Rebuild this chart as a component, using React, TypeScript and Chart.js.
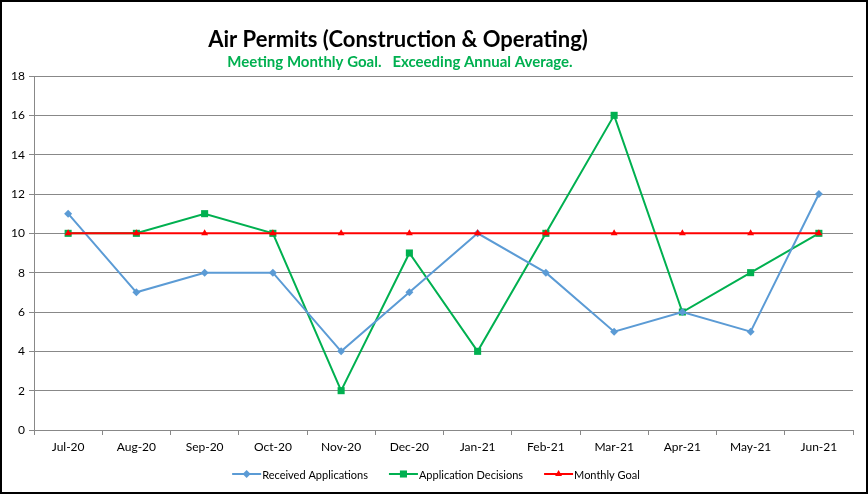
import React, { useEffect, useRef } from 'react';
import { Chart, registerables } from 'chart.js';
import { drawPoint } from 'chart.js/helpers';

Chart.register(...registerables);

const months = ['Jul-20', 'Aug-20', 'Sep-20', 'Oct-20', 'Nov-20', 'Dec-20', 'Jan-21', 'Feb-21', 'Mar-21', 'Apr-21', 'May-21', 'Jun-21'];
const received = [11, 7, 8, 8, 4, 7, 10, 8, 5, 6, 5, 12];
const decisions = [10, 10, 11, 10, 2, 9, 4, 10, 16, 6, 8, 10];
const goal = [10, 10, 10, 10, 10, 10, 10, 10, 10, 10, 10, 10];
const yMin = 0;
const yMax = 18;
const yStep = 2;
const titleText = 'Air Permits (Construction & Operating)';
const subtitleText = 'Meeting Monthly Goal.   Exceeding Annual Average.';
const seriesLabels = ['Received Applications', 'Application Decisions', 'Monthly Goal'];

const FONT = 'Lato, "Open Sans", sans-serif';
const BLUE = '#5B9BD5';
const GREEN = '#00B050';
const RED = '#FF0000';

const decorPlugin = {
  id: 'decor',
  afterDraw(chart: any) {
    const ctx: CanvasRenderingContext2D = chart.ctx;
    ctx.save();
    ctx.textAlign = 'center';
    ctx.textBaseline = 'middle';
    ctx.fillStyle = '#000';
    ctx.font = `bold 22px ${FONT}`;
    ctx.fillText(titleText, 396, 38);
    ctx.fillStyle = GREEN;
    ctx.font = `bold 15px ${FONT}`;
    ctx.fillText(subtitleText, 398, 60);

    // legend
    ctx.font = `11px ${FONT}`;
    const lineW = 29;
    const gap = 1;
    const itemGap = 21;
    const ds = chart.data.datasets;
    const widths = ds.map((d: any) => lineW + gap + ctx.measureText(d.label).width);
    const total = widths.reduce((a: number, b: number) => a + b, 0) + itemGap * (ds.length - 1);
    let x = 434 - total / 2;
    const y = 472;
    ds.forEach((d: any, i: number) => {
      ctx.strokeStyle = d.borderColor;
      ctx.lineWidth = 2;
      ctx.beginPath();
      ctx.moveTo(x, y);
      ctx.lineTo(x + lineW, y);
      ctx.stroke();
      ctx.fillStyle = d.borderColor;
      ctx.lineWidth = 0;
      drawPoint(ctx, { pointStyle: d.pointStyle, radius: d.pointRadius, rotation: 0, borderWidth: 0 }, x + lineW / 2, y);
      ctx.fillStyle = '#000';
      ctx.textAlign = 'left';
      ctx.fillText(d.label, x + lineW + gap, y + 1);
      x += widths[i] + itemGap;
    });
    ctx.restore();
  },
};

export default function App() {
  const ref = useRef<HTMLCanvasElement>(null);
  useEffect(() => {
    if (!ref.current) return;
    const chart = new Chart(ref.current, {
      type: 'line',
      data: {
        labels: months,
        datasets: [
          {
            label: seriesLabels[0],
            data: received,
            borderColor: BLUE,
            backgroundColor: BLUE,
            borderWidth: 2,
            pointStyle: 'rectRot',
            pointRadius: 4,
            pointHoverRadius: 4,
            pointBorderWidth: 0,
            tension: 0,
            order: 1,
          },
          {
            label: seriesLabels[1],
            data: decisions,
            borderColor: GREEN,
            backgroundColor: GREEN,
            borderWidth: 2,
            pointStyle: 'rect',
            pointRadius: 5,
            pointHoverRadius: 5,
            pointBorderWidth: 0,
            tension: 0,
            order: 2,
          },
          {
            label: seriesLabels[2],
            data: goal,
            borderColor: RED,
            backgroundColor: RED,
            borderWidth: 2,
            pointStyle: 'triangle',
            pointRadius: 4,
            pointHoverRadius: 4,
            pointBorderWidth: 0,
            tension: 0,
            order: 0,
          },
        ],
      },
      options: {
        animation: false,
        responsive: false,
        layout: { padding: { top: 74, bottom: 32, right: 13, left: 0 } },
        plugins: {
          legend: { display: false },
          title: { display: false },
          tooltip: { enabled: false },
        },
        scales: {
          x: {
            offset: true,
            grid: {
              offset: true,
              drawOnChartArea: false,
              drawTicks: true,
              tickLength: 5,
              color: '#888',
            },
            border: { display: true, color: '#888', width: 1 },
            ticks: {
              color: '#000',
              font: { family: FONT, size: 12 },
              padding: 5,
              maxRotation: 0,
              autoSkip: false,
            },
            afterFit: (s: any) => { s.height = 30; },
          },
          y: {
            min: yMin,
            max: yMax,
            ticks: {
              stepSize: yStep,
              color: '#000',
              font: { family: FONT, size: 12 },
              padding: 4,
            },
            grid: { color: '#888', tickLength: 5, lineWidth: 1 },
            border: { display: true, color: '#888', width: 1 },
            afterFit: (s: any) => { s.width = 32; },
          },
        },
      },
      plugins: [decorPlugin],
    });
    return () => chart.destroy();
  }, []);

  return (
    <div
      style={{
        position: 'fixed',
        left: 0,
        top: 0,
        width: 868,
        height: 494,
        border: '2px solid #000',
        boxSizing: 'border-box',
        background: '#fff',
      }}
    >
      <canvas ref={ref} width={864} height={490} style={{ display: 'block', width: 864, height: 490 }} />
    </div>
  );
}
